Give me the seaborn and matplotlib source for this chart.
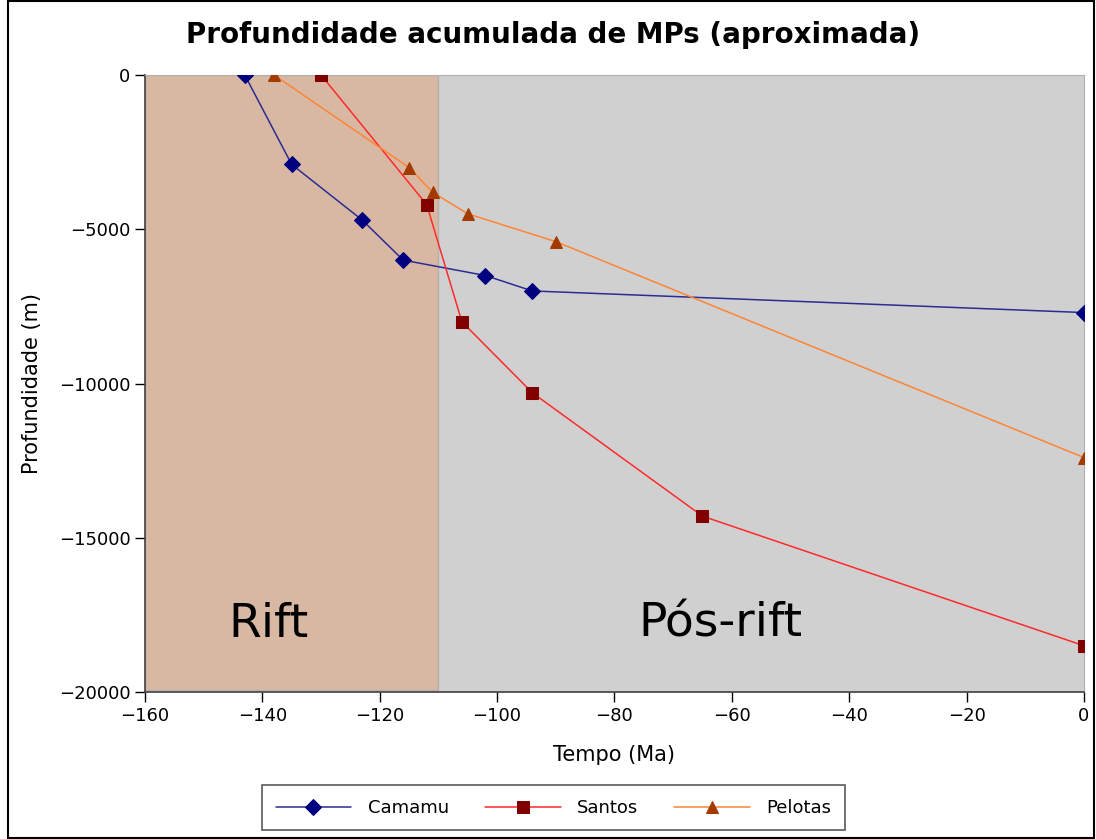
import matplotlib
matplotlib.use("Agg")
import matplotlib.pyplot as plt
import seaborn as sns
import pandas as pd

# idades (Ma) e profundidades acumuladas (m)
camamu_t = [-143, -135, -123, -116, -102, -94, 0]
camamu_z = [0, -2900, -4700, -6000, -6500, -7000, -7700]

santos_t = [-130, -112, -106, -94, -65, 0]
santos_z = [0, -4200, -8000, -10300, -14300, -18500]

pelotas_t = [-138, -115, -111, -105, -90, 0]
pelotas_z = [0, -3000, -3800, -4500, -5400, -12400]

series = [
    ("Camamu", camamu_t, camamu_z, "#2b2b93", "#000080", "D", 8),
    ("Santos", santos_t, santos_z, "#ff2a2a", "#800000", "s", 9),
    ("Pelotas", pelotas_t, pelotas_z, "#ff8533", "#a33a00", "^", 9),
]

sns.set_style("white")
plt.rcParams['font.family'] = ['DejaVu Sans']
plt.rcParams['text.color'] = 'black'
plt.rcParams['axes.labelcolor'] = 'black'

fig = plt.figure(figsize=(10.96, 8.39), dpi=100)
ax = fig.add_axes([0.1323, 0.1752, 0.8567, 0.7354])
ax.set_facecolor("#d0d0d0")

# fases tectonicas
ax.axvspan(-160, -110, ymin=0.004, ymax=1, facecolor="#d9b8a3",
           edgecolor="#b8b0ac", zorder=0, lw=1)
ax.text(-139, -17800, "Rift", fontsize=34, ha="center", va="center", color="black")
ax.text(-62, -17800, "Pós-rift", fontsize=34, ha="center", va="center", color="black")

for name, t, z, lc, mc, mk, ms in series:
    df = pd.DataFrame({"t": t, "z": z})
    sns.lineplot(data=df, x="t", y="z", ax=ax, color=lc, lw=1.1, marker=mk,
                 markersize=ms, markerfacecolor=mc, markeredgecolor=mc,
                 sort=False, label=name, zorder=3)

ax.set_xlim(-160, 0)
ax.set_ylim(-20000, 0)
ax.set_xticks(range(-160, 1, 20))
ax.set_yticks([0, -5000, -10000, -15000, -20000])
ax.tick_params(axis="both", labelsize=13, direction="out", length=7.5,
               width=1, left=True, bottom=True, colors="black", pad=3)
ax.set_xlabel("Tempo (Ma)", fontsize=15, labelpad=15)
ax.set_ylabel("Profundidade (m)", fontsize=15, labelpad=12)
fig.suptitle("Profundidade acumulada de MPs (aproximada)", x=0.505, y=0.958,
             va="center", fontsize=20, fontweight="bold", color="black")

for s in ["top", "right"]:
    ax.spines[s].set_color("#b0b0b0")
for s in ["left", "bottom"]:
    ax.spines[s].set_color("#404040")
    ax.spines[s].set_linewidth(1.2)

handles, labels = ax.get_legend_handles_labels()
ax.get_legend().remove()
leg = fig.legend(handles, labels, loc="center", bbox_to_anchor=(0.505, 0.037),
                 ncol=3, fontsize=13, frameon=True, fancybox=False,
                 handlelength=4.2, columnspacing=2.0, borderpad=0.75,
                 handletextpad=0.9)
leg.get_frame().set_edgecolor("#303030")
leg.get_frame().set_linewidth(1.2)

# moldura da figura
fig.patches.append(plt.Rectangle((0.007, 0.001), 0.991, 0.998, transform=fig.transFigure,
                                 fill=False, edgecolor="black", lw=1.5))

fig.savefig("out.png", dpi=100)
